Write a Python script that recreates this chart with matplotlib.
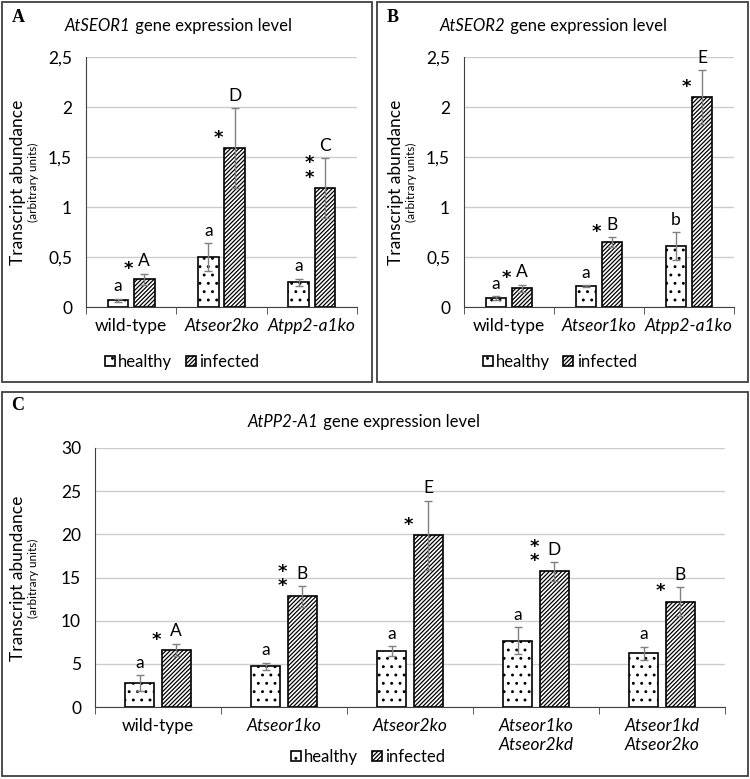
import numpy as np
import matplotlib.pyplot as plt
from matplotlib.patches import Rectangle, Patch

plt.rcParams['font.family'] = ['Lato', 'DejaVu Sans']
plt.rcParams['hatch.linewidth'] = 0.9

# panel A - AtSEOR1
a_groups = ['wild-type', 'Atseor2ko', 'Atpp2-a1ko']
a_healthy = [0.07, 0.50, 0.25]
a_healthy_err = [0.015, 0.14, 0.035]
a_infected = [0.28, 1.59, 1.19]
a_infected_err = [0.055, 0.40, 0.30]
a_healthy_letters = ['a', 'a', 'a']
a_infected_letters = ['A', 'D', 'C']
a_stars = [1, 1, 2]

# panel B - AtSEOR2
b_groups = ['wild-type', 'Atseor1ko', 'Atpp2-a1ko']
b_healthy = [0.09, 0.21, 0.61]
b_healthy_err = [0.02, 0.01, 0.14]
b_infected = [0.19, 0.65, 2.10]
b_infected_err = [0.035, 0.05, 0.27]
b_healthy_letters = ['a', 'a', 'b']
b_infected_letters = ['A', 'B', 'E']
b_stars = [1, 1, 1]

# panel C - AtPP2-A1
c_groups = ['wild-type', 'Atseor1ko', 'Atseor2ko', 'Atseor1ko\nAtseor2kd',
            'Atseor1kd\nAtseor2ko']
c_healthy = [2.8, 4.7, 6.5, 7.7, 6.2]
c_healthy_err = [0.9, 0.45, 0.6, 1.6, 0.8]
c_infected = [6.6, 12.8, 19.9, 15.7, 12.2]
c_infected_err = [0.75, 1.2, 4.0, 1.1, 1.7]
c_healthy_letters = ['a', 'a', 'a', 'a', 'a']
c_infected_letters = ['A', 'B', 'E', 'D', 'B']
c_stars = [1, 2, 1, 2, 1]

ab_ticks = [0, 0.5, 1, 1.5, 2, 2.5]
ab_ticklabels = ['0', '0,5', '1', '1,5', '2', '2,5']
c_ticks = [0, 5, 10, 15, 20, 25, 30]
c_ticklabels = ['0', '5', '10', '15', '20', '25', '30']

W, H = 750, 779
fig = plt.figure(figsize=(7.5, 7.79), dpi=100)

DOTS = '..'
STRIPES = '////////'


def px_axes(left, top, right, bottom):
    return fig.add_axes([left / W, 1 - bottom / H, (right - left) / W,
                         (bottom - top) / H])


def draw_panel(ax, groups, healthy, healthy_err, infected, infected_err,
               hl, il, stars, ticks, ticklabels, legend_xy):
    width, gap = 0.23, 0.06
    x = np.arange(len(groups))
    xh = x - (width + gap) / 2
    xi = x + (width + gap) / 2
    ax.bar(xh, healthy, width, color='white', edgecolor='black',
           hatch=DOTS, linewidth=1.2, zorder=3)
    ax.bar(xi, infected, width, color='white', edgecolor='black',
           hatch=STRIPES, linewidth=1.2, zorder=3)
    ax.errorbar(xh, healthy, healthy_err, fmt='none', ecolor='#808080',
                capsize=3, elinewidth=1, zorder=4)
    ax.errorbar(xi, infected, infected_err, fmt='none', ecolor='#808080',
                capsize=3, elinewidth=1, zorder=4)

    for i in range(len(groups)):
        ax.annotate(hl[i], (xh[i], healthy[i] + healthy_err[i]),
                    xytext=(0, 3), textcoords='offset points',
                    ha='center', va='bottom', fontsize=12.5)
        ax.annotate(il[i], (xi[i], infected[i] + infected_err[i]),
                    xytext=(0, 3), textcoords='offset points',
                    ha='center', va='bottom', fontsize=12.5)
        ax.annotate('\n'.join(['*'] * stars[i]), (xi[i] - width / 2, infected[i]),
                    xytext=(-4, 1), textcoords='offset points',
                    ha='center', va='bottom', fontsize=13,
                    family='DejaVu Sans', fontweight='bold', linespacing=0.75)

    ax.set_xlim(-0.5, len(groups) - 0.5)
    ax.set_ylim(ticks[0], ticks[-1])
    ax.set_yticks(ticks)
    ax.set_yticklabels(ticklabels, fontsize=12.5)
    ax.tick_params(axis='y', length=0, pad=10)
    ax.set_xticks(x)
    ax.set_xticklabels(groups, fontsize=12.5, linespacing=1.25)
    for lab in ax.get_xticklabels():
        if lab.get_text() != 'wild-type':
            lab.set_fontstyle('italic')
    ax.tick_params(axis='x', length=0, pad=8)
    ax.set_xticks(np.arange(len(groups) + 1) - 0.5, minor=True)
    ax.tick_params(axis='x', which='minor', length=5, color='#404040')
    ax.grid(axis='y', color='#cccccc', linewidth=1, zorder=0)
    ax.set_axisbelow(True)
    for s in ['top', 'right']:
        ax.spines[s].set_visible(False)
    ax.spines['left'].set_color('#404040')
    ax.spines['bottom'].set_color('#404040')

    handles = [Patch(facecolor='white', edgecolor='black', hatch=DOTS,
                     linewidth=1.2),
               Patch(facecolor='white', edgecolor='black', hatch=STRIPES,
                     linewidth=1.2)]
    ax.legend(handles, ['healthy', 'infected'], loc='center',
              bbox_to_anchor=legend_xy, ncol=2, frameon=False,
              fontsize=12, handlelength=0.6, handleheight=0.6,
              handletextpad=0.2, columnspacing=0.8)


def title(x, y, gene):
    t = fig.text(x / W, 1 - y / H, gene, fontsize=12, style='italic',
                 ha='left', va='center')
    fig.axes[0].annotate(' gene expression level', xy=(1, 0.5), xycoords=t,
                         ha='left', va='center', fontsize=12,
                         annotation_clip=False)


def ylabel(x, y):
    fig.text(x / W, 1 - y / H, 'Transcript abundance', rotation=90,
             ha='center', va='center', fontsize=12.5)
    fig.text((x + 15) / W, 1 - y / H, '(arbitrary units)', rotation=90,
             ha='center', va='center', fontsize=8.5)


ax_a = px_axes(86, 57, 357, 307)
draw_panel(ax_a, a_groups, a_healthy, a_healthy_err, a_infected,
           a_infected_err, a_healthy_letters, a_infected_letters, a_stars,
           ab_ticks, ab_ticklabels, (0.354, -0.22))

ax_b = px_axes(464, 57, 734, 307)
draw_panel(ax_b, b_groups, b_healthy, b_healthy_err, b_infected,
           b_infected_err, b_healthy_letters, b_infected_letters, b_stars,
           ab_ticks, ab_ticklabels, (0.354, -0.22))

ax_c = px_axes(95, 448, 725, 707)
draw_panel(ax_c, c_groups, c_healthy, c_healthy_err, c_infected,
           c_infected_err, c_healthy_letters, c_infected_letters, c_stars,
           c_ticks, c_ticklabels, (0.433, -0.193))

title(65, 26, 'AtSEOR1')
title(440, 26, 'AtSEOR2')
title(248, 422, 'AtPP2-A1')

ylabel(18, 182)
ylabel(396, 182)
ylabel(18, 578)

# panel frames and letters
for (l, t, r, b) in [(2, 2, 372, 382), (377, 2, 748, 382), (2, 392, 748, 776)]:
    fig.add_artist(Rectangle((l / W, 1 - b / H), (r - l) / W, (b - t) / H,
                             transform=fig.transFigure, fill=False,
                             edgecolor='#404040', linewidth=1.3))
for (x, y, s) in [(18, 18, 'A'), (393, 18, 'B'), (18, 406, 'C')]:
    fig.text(x / W, 1 - y / H, s, family='Liberation Serif',
             fontweight='bold', fontsize=13, ha='center', va='center')

fig.savefig('out.png', dpi=100)
